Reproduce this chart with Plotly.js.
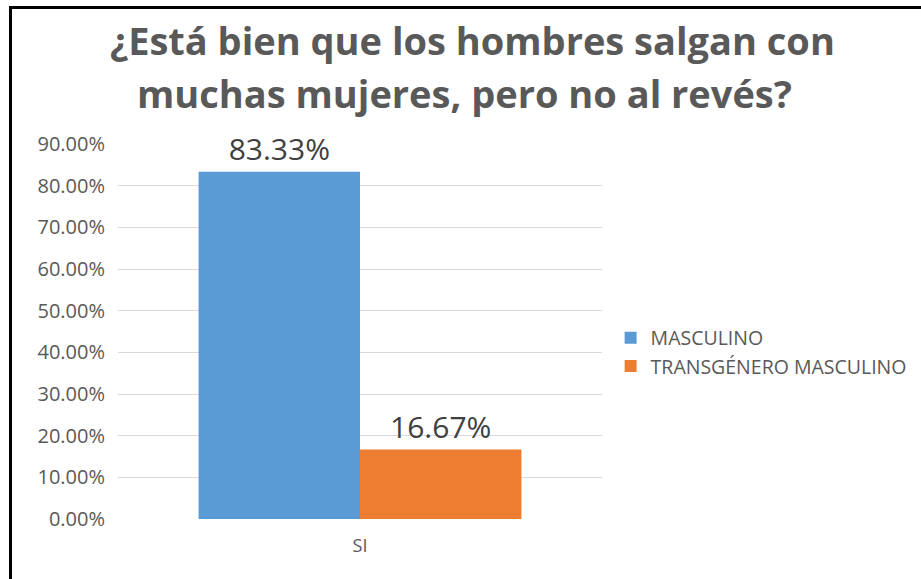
<!DOCTYPE html>
<html>
<head>
<meta charset="utf-8">
<script src="https://cdn.plot.ly/plotly-3.0.1.min.js"></script>
<style>
  html, body { margin: 0; padding: 0; background: #fff; overflow: hidden; }
  #chart { width: 921px; height: 579px; }
  #frame { position: absolute; left: 9px; top: 6px; width: 940px; height: 600px;
           border-top: 3px solid #000; border-left: 3px solid #000; pointer-events: none; }
</style>
</head>
<body>
<div id="chart"></div>
<div id="frame"></div>
<script>
const categories = ['SI'];
const seriesNames = ['MASCULINO', 'TRANSGÉNERO MASCULINO'];
const masculino = [0.8333];
const transMasculino = [0.1667];
const seriesColors = ['#5B9BD5', '#ED7D31'];
const yTickVals = [0, 0.1, 0.2, 0.3, 0.4, 0.5, 0.6, 0.7, 0.8, 0.9];
const yTickText = ['0.00%', '10.00%', '20.00%', '30.00%', '40.00%', '50.00%', '60.00%', '70.00%', '80.00%', '90.00%'];
const titleLines = ['¿Está bien que los hombres salgan con', 'muchas mujeres, pero no al revés?'];

const seriesValues = [masculino, transMasculino];
const traces = seriesNames.map((name, i) => ({
  type: 'bar',
  name: name,
  x: categories,
  y: seriesValues[i],
  marker: { color: seriesColors[i] },
  text: seriesValues[i].map(v => (v * 100).toFixed(2) + '%'),
  textposition: 'outside',
  cliponaxis: false,
  textfont: { family: 'Open Sans, sans-serif', size: 30, color: '#404040' },
  hoverinfo: 'none'
}));

// plot area in pixels: x 118..602, y 144.3..518.6
const plotTop = 144.3, plotBottom = 518.6, plotLeft = 118, plotRight = 602;
const px2paperY = p => (plotBottom - p) / (plotBottom - plotTop);
const px2paperX = p => (p - plotLeft) / (plotRight - plotLeft);
const titleCenters = [[472, 40], [464, 93]];

const titleFont = { family: 'Open Sans, sans-serif', size: 38, color: '#595959', weight: 700 };
const annotations = titleLines.map((t, i) => ({
  text: t,
  xref: 'paper', yref: 'paper',
  x: px2paperX(titleCenters[i][0]), y: px2paperY(titleCenters[i][1]),
  xanchor: 'center', yanchor: 'middle',
  showarrow: false,
  font: titleFont
}));

const layout = {
  width: 921,
  height: 579,
  paper_bgcolor: '#ffffff',
  plot_bgcolor: '#ffffff',
  margin: { l: 118, r: 319, t: 144, b: 60, pad: 0 },
  annotations: annotations,
  barmode: 'group',
  bargap: 0.333,
  bargroupgap: 0,
  showlegend: true,
  legend: {
    xref: 'container', yref: 'container',
    x: 0.663, y: 1 - 352 / 579,
    xanchor: 'left', yanchor: 'middle',
    font: { family: 'Open Sans, sans-serif', size: 19.5, color: '#595959' },
    tracegroupgap: 0,
    bgcolor: 'rgba(0,0,0,0)'
  },
  xaxis: {
    type: 'category',
    showgrid: false,
    showline: false,
    zeroline: false,
    ticks: '',
    tickfont: { family: 'Open Sans, sans-serif', size: 18, color: '#595959' },
    ticklabelstandoff: 14
  },
  yaxis: {
    range: [0, 0.9],
    tickvals: yTickVals,
    ticktext: yTickText,
    showgrid: true,
    gridcolor: '#d9d9d9',
    gridwidth: 1,
    zeroline: true,
    zerolinecolor: '#ffffff',
    zerolinewidth: 2,
    showline: false,
    ticks: '',
    ticklabelstandoff: 12,
    tickfont: { family: 'Open Sans, sans-serif', size: 20, color: '#595959' }
  }
};

Plotly.newPlot('chart', traces, layout, { staticPlot: true, displayModeBar: false });
</script>
</body>
</html>
